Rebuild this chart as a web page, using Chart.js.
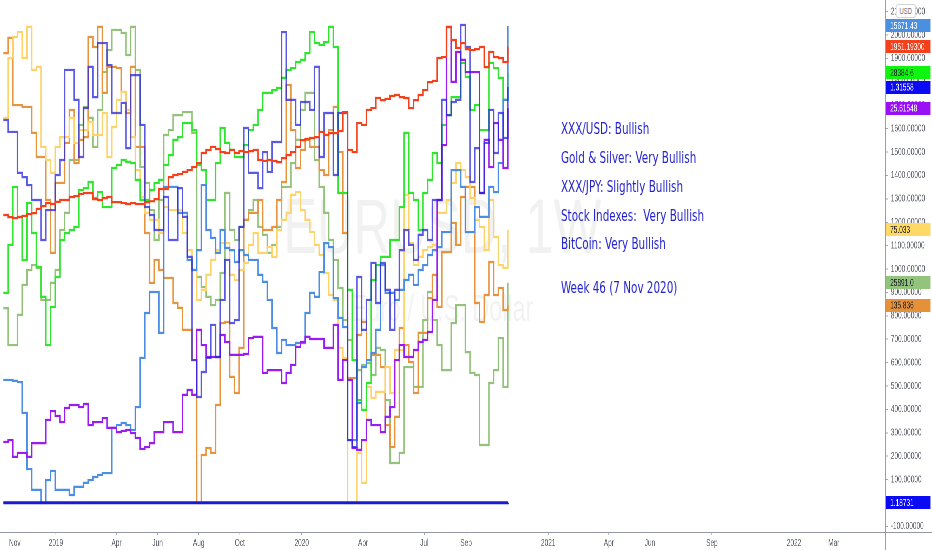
<!DOCTYPE html>
<html>
<head>
<meta charset="utf-8">
<script src="https://cdn.jsdelivr.net/npm/chart.js@4.4.1/dist/chart.umd.min.js"></script>
<style>
html, body { margin: 0; padding: 0; background: #fff; overflow: hidden; width: 932px; height: 550px; }
/* the reference is a wide screenshot squeezed horizontally, so draw wide and squeeze */
#wrap { position: absolute; left: 0; top: 0; width: 1434px; height: 550px; transform: scaleX(0.65); transform-origin: 0 0; }
#chart { position: absolute; left: 0; top: 0; }
.wm { position: absolute; left: 0; width: 1361px; text-align: center; font-family: "Liberation Sans", Arial, sans-serif; color: rgba(0, 0, 0, 0.055); white-space: nowrap; }
#wm1 { top: 187px; font-size: 78px; line-height: 78px; }
#wm2 { top: 291px; font-size: 36px; line-height: 36px; }
.note { position: absolute; left: 863px; font: 16px/16px "DejaVu Sans", sans-serif; color: #2424cf; white-space: pre; }
#usd { position: absolute; left: 1378px; top: 4px; width: 29px; height: 12px; border: 1px solid #c9cbd1; border-radius: 3px; background: #fff; font: 9px/12px "Liberation Sans", sans-serif; color: #6a6d78; text-align: center; }
</style>
</head>
<body>
<div id="wrap">
  <div class="wm" id="wm1">EURUSD, 1W</div>
  <div class="wm" id="wm2">Euro / U.S. Dollar</div>
  <canvas id="chart" width="1434" height="550"></canvas>
  <div class="note" style="top:121px">XXX/USD: Bullish</div>
  <div class="note" style="top:150px">Gold &amp; Silver: Very Bullish</div>
  <div class="note" style="top:179px">XXX/JPY: Slightly Bullish</div>
  <div class="note" style="top:208px">Stock Indexes:  Very Bullish</div>
  <div class="note" style="top:236px">BitCoin: Very Bullish</div>
  <div class="note" style="top:280px">Week 46 (7 Nov 2020)</div>
  <div id="usd">USD</div>
</div>
<script>
// weekly bars, first one is the week of 15 Oct 2018
const firstWeek = "2018-10-15";

const xTickDates = ["2018-11-01", "2019-01-01", "2019-04-01", "2019-06-01", "2019-08-01", "2019-10-01",
  "2020-01-01", "2020-04-01", "2020-07-01", "2020-09-01", "2021-01-01", "2021-04-01",
  "2021-06-01", "2021-09-01", "2022-01-01", "2022-03-01"];
const xTickLabels = ["Nov", "2019", "Apr", "Jun", "Aug", "Oct", "2020", "Apr", "Jul", "Sep",
  "2021", "Apr", "Jun", "Sep", "2022", "Mar"];

// gold, on the main scale
const gold = [1231, 1222, 1218, 1222, 1227, 1235, 1239, 1257, 1269, 1282,
  1278, 1287, 1295, 1295, 1308, 1312, 1321, 1325, 1325, 1299,
  1295, 1303, 1308, 1286, 1286, 1282, 1278, 1282, 1278, 1278,
  1286, 1290, 1299, 1342, 1342, 1393, 1402, 1406, 1415, 1423,
  1436, 1453, 1496, 1509, 1522, 1513, 1500, 1496, 1509, 1496,
  1504, 1500, 1504, 1509, 1466, 1462, 1466, 1462, 1457, 1474,
  1487, 1500, 1522, 1551, 1556, 1560, 1564, 1586, 1573, 1581,
  1581, 1590, 1671, 1509, 1500, 1624, 1616, 1680, 1688, 1731,
  1722, 1727, 1740, 1744, 1735, 1731, 1688, 1722, 1744, 1765,
  1799, 1804, 1902, 1906, 2034, 1979, 1945, 1966, 1940, 1936,
  1940, 1949, 1863, 1928, 1906, 1902, 1885, 1951];

// EURUSD, same scale, so it sits on the floor
const eurusd = [1.15, 1.16, 1.15, 1.14, 1.13, 1.14, 1.13, 1.14, 1.14, 1.13,
  1.14, 1.14, 1.15, 1.14, 1.15, 1.14, 1.14, 1.13, 1.13, 1.14,
  1.13, 1.12, 1.13, 1.13, 1.13, 1.12, 1.12, 1.12, 1.12, 1.11,
  1.12, 1.12, 1.12, 1.12, 1.12, 1.13, 1.13, 1.13, 1.14, 1.12,
  1.12, 1.12, 1.11, 1.11, 1.12, 1.11, 1.10, 1.11, 1.10, 1.11,
  1.10, 1.10, 1.10, 1.10, 1.11, 1.11, 1.11, 1.10, 1.10, 1.10,
  1.10, 1.11, 1.11, 1.11, 1.12, 1.12, 1.11, 1.11, 1.10, 1.10,
  1.09, 1.08, 1.09, 1.11, 1.11, 1.07, 1.08, 1.10, 1.08, 1.09,
  1.09, 1.08, 1.08, 1.09, 1.11, 1.13, 1.12, 1.13, 1.12, 1.12,
  1.12, 1.13, 1.13, 1.14, 1.16, 1.18, 1.18, 1.18, 1.18, 1.19,
  1.18, 1.19, 1.16, 1.17, 1.17, 1.18, 1.16, 1.19];

// overlay symbols, read as heights on the main scale
const gbpusd = [1637, 1586, 1586, 1411, 1393, 1359, 1295, 1295, 1124, 1252,
  1252, 1402, 1466, 1851, 1851, 1723, 1479, 1688, 1864, 1735,
  1966, 1966, 1872, 1667, 1667, 1710, 1517, 1829, 1829, 1616,
  1265, 1231, 1167, 1167, 1308, 1124, 1124, 1346, 1223, 1052,
  611, 453, 560, 620, 761, 624, 868, 1039, 769, 782,
  1180, 1603, 1411, 1411, 1346, 1500, 1415, 1543, 1543, 2013,
  1723, 1723, 1616, 1714, 1714, 1680, 1864, 1479, 1667, 1667,
  1402, 1667, 1667, 269, 239, 966, 740, 868, 1026, 855,
  1026, 911, 740, 911, 1081, 1167, 1103, 1039, 1146, 1167,
  1124, 1295, 1295, 1723, 1658, 1714, 1723, 2043, 1949, 1372,
  1517, 1325, 1539, 1680, 1496, 1667, 1560, 1778];

const btc = [526, 526, 522, 517, 385, 145, 56, 56, 0, 98,
  137, 56, 56, 56, 34, 69, 69, 86, 98, 111,
  120, 128, 128, 321, 333, 342, 333, 312, 410, 620,
  812, 902, 902, 727, 1351, 1351, 1351, 1240, 1240, 1039,
  996, 1081, 1359, 1167, 1133, 1069, 1167, 1090, 1081, 1030,
  1081, 1060, 1039, 1039, 975, 945, 868, 748, 641, 697,
  675, 675, 684, 684, 812, 898, 881, 987, 1111, 1094,
  876, 791, 752, 269, 269, 428, 581, 611, 641, 740,
  1017, 898, 898, 868, 911, 953, 975, 932, 996, 1017,
  1060, 1081, 1094, 1158, 1158, 1423, 1423, 1351, 1158, 1158,
  1265, 1223, 1223, 1351, 1329, 1453, 1723, 2039];

const dji = [898, 1103, 1351, 1223, 1039, 1282, 1154, 1009, 881, 675,
  838, 966, 1124, 1154, 1167, 1180, 1338, 1346, 1372, 1304,
  1329, 1265, 1265, 1432, 1445, 1466, 1458, 1453, 1381, 1295,
  1295, 1338, 1368, 1381, 1445, 1487, 1552, 1564, 1624, 1624,
  1594, 1445, 1423, 1295, 1295, 1453, 1603, 1539, 1509, 1479,
  1479, 1530, 1594, 1616, 1680, 1753, 1753, 1765, 1774, 1817,
  1851, 1859, 1885, 1894, 1923, 2013, 1966, 1958, 1970, 2035,
  1949, 1325, 1325, 911, 611, 440, 398, 513, 953, 1017,
  1052, 1052, 1124, 1124, 1265, 1582, 1325, 1295, 1167, 1325,
  1381, 1496, 1453, 1616, 1658, 1735, 1735, 1881, 1821, 1680,
  1701, 1594, 1594, 1881, 1859, 1817, 1723, 1838];

const hsi = [833, 675, 675, 804, 932, 996, 1017, 1004, 868, 868,
  941, 996, 1167, 1240, 1466, 1466, 1616, 1693, 1646, 1522,
  1680, 1842, 1936, 2022, 2022, 2009, 1915, 2035, 1851, 1436,
  1368, 1252, 1124, 1295, 1573, 1594, 1658, 1658, 1671, 1671,
  1582, 966, 923, 881, 846, 868, 983, 1325, 1167, 1124,
  1180, 1210, 1252, 1295, 1180, 1146, 1069, 1103, 1180, 1351,
  1351, 1453, 1552, 1680, 1753, 1753, 1466, 1351, 1240, 1124,
  1039, 919, 782, 697, 611, 568, 590, 598, 547, 663,
  654, 440, 171, 171, 214, 581, 581, 496, 496, 782,
  902, 782, 675, 568, 568, 769, 846, 846, 645, 556,
  547, 248, 248, 513, 568, 705, 496, 941];

const silver = [261, 269, 197, 214, 214, 197, 256, 256, 256, 355,
  393, 372, 346, 406, 419, 419, 410, 423, 333, 346,
  346, 363, 321, 321, 303, 308, 312, 299, 278, 231,
  239, 256, 303, 303, 346, 346, 303, 303, 462, 483,
  462, 740, 675, 624, 624, 624, 718, 688, 633, 633,
  633, 637, 705, 710, 710, 556, 568, 568, 568, 513,
  556, 590, 667, 688, 710, 701, 701, 701, 663, 663,
  761, 526, 611, 526, 235, 227, 269, 355, 333, 333,
  303, 368, 410, 611, 675, 624, 624, 654, 688, 697,
  731, 868, 1295, 1530, 2035, 1800, 1928, 1894, 1842, 1842,
  1842, 1325, 1552, 1436, 1624, 1552, 1432, 1688];

const audjpy = [1646, 1902, 1992, 2013, 1902, 2035, 1851, 1864, 1522, 1466,
  1411, 1522, 1564, 1564, 1646, 1539, 1594, 1594, 1629, 1573,
  1573, 1667, 1479, 1607, 1723, 1757, 1680, 1564, 1423, 1308,
  1240, 1210, 1210, 1154, 1265, 1252, 1252, 1252, 1154, 1081,
  996, 868, 911, 975, 1039, 1081, 1111, 1111, 975, 953,
  996, 1026, 1103, 1154, 1069, 1069, 1094, 1052, 1167, 1210,
  1240, 1317, 1329, 1252, 1210, 1158, 1103, 1060, 983, 889,
  868, 663, 620, 0, 0, 214, 86, 496, 449, 475,
  475, 581, 470, 654, 654, 1317, 1111, 1017, 1052, 1081,
  1094, 1103, 1240, 1240, 1295, 1368, 1453, 1423, 1393, 1304,
  1210, 1180, 1081, 1295, 1137, 1017, 1005, 1167];

const gbpjpy = [1923, 1988, 1701, 1701, 1693, 1693, 1582, 1479, 1479, 1295,
  1069, 1368, 1368, 1539, 1680, 1453, 1552, 1564, 1992, 1949,
  2035, 1753, 1864, 1864, 1859, 1757, 1667, 1864, 1522, 1522,
  1154, 941, 1039, 996, 962, 962, 855, 834, 740, 740,
  611, 0, 205, 235, 214, 419, 769, 774, 539, 470,
  663, 1210, 1240, 1240, 1295, 1167, 1167, 1180, 1295, 1372,
  1787, 1594, 1432, 1509, 1552, 1522, 1522, 1423, 1402, 1594,
  1693, 1500, 1154, 534, 534, 718, 774, 611, 633, 633,
  581, 333, 239, 368, 748, 675, 603, 470, 727, 727,
  876, 975, 838, 1073, 1073, 1197, 1103, 1308, 1351, 1351,
  855, 774, 889, 1030, 889, 919, 825, 846];

// last prices shown in the tags on the price axis
const lastPrice = {
  gold: "1951.19300", eurusd: "1.18731", gbpusd: "1.31558", silver: "25.61548", btc: "15671.43",
  dji: "28384.6", audjpy: "75.033", gbpjpy: "135.836", hsi: "25891.0"
};

const yTickValues = [];
for (let v = -100; v <= 2100; v += 100) yTickValues.push(v);

const DAY = 86400000;
const epoch = Date.parse("2019-01-01");
const dayOf = s => (Date.parse(s) - epoch) / DAY;
const weekDays = gold.map((_, i) => dayOf(firstWeek) + 7 * i);
const xTickDays = xTickDates.map(dayOf);

function series(values, color, tag, tagText, price, width) {
  return {
    data: values.map((v, i) => ({ x: weekDays[i], y: v })),
    borderColor: color,
    borderWidth: width || 2.2,
    stepped: true,
    pointRadius: 0,
    fill: false,
    tagColor: tag,
    tagText: tagText,
    price: price
  };
}

const axisFont = { family: "Liberation Sans, Arial, sans-serif", size: 10 };
const axisColor = "#5d606b";
const lineColor = "#a3a6af";

const overlay = {
  id: "overlay",
  afterDraw(chart) {
    const { ctx, chartArea: a } = chart;
    const y = chart.scales.y;
    ctx.save();
    ctx.strokeStyle = "#9598a1";
    ctx.lineWidth = 1;
    ctx.beginPath();
    ctx.moveTo(0, a.bottom + 0.5);
    ctx.lineTo(chart.width, a.bottom + 0.5);
    ctx.moveTo(a.right + 0.5, 0);
    ctx.lineTo(a.right + 0.5, chart.height);
    ctx.stroke();

    ctx.font = "10px 'Liberation Sans', Arial, sans-serif";
    ctx.textBaseline = "middle";
    chart.data.datasets.forEach(ds => {
      const last = ds.data[ds.data.length - 1].y;
      const py = y.getPixelForValue(last);
      ctx.fillStyle = ds.tagColor;
      ctx.fillRect(a.right + 1.5, Math.round(py - 6.5), chart.width - a.right - 4, 13);
      ctx.fillStyle = ds.tagText;
      ctx.fillText(ds.price, a.right + 8, py + 0.5);
    });
    ctx.restore();
  }
};

new Chart(document.getElementById("chart"), {
  type: "line",
  data: {
    datasets: [
      series(gold, "#f4411c", "#f4411c", "#fff", lastPrice.gold),
      series(eurusd, "#1a1ad2", "#0a0af5", "#fff", lastPrice.eurusd, 3),
      series(gbpusd, "rgba(35,35,222,0.75)", "#0a0af5", "#fff", lastPrice.gbpusd),
      series(silver, "#9a1cf0", "#9a10f5", "#fff", lastPrice.silver),
      series(btc, "#4c8ee2", "#4a8fe0", "#fff", lastPrice.btc),
      series(dji, "#2ee62e", "#10f510", "#1a1d26", lastPrice.dji),
      series(audjpy, "#fdd36a", "#ffd966", "#1a1d26", lastPrice.audjpy),
      series(gbpjpy, "#e69440", "#e69138", "#1a1d26", lastPrice.gbpjpy),
      series(hsi, "#93c37a", "#93c47d", "#1a1d26", lastPrice.hsi)
    ]
  },
  options: {
    responsive: false,
    devicePixelRatio: 2,
    animation: false,
    layout: { padding: 0 },
    plugins: { legend: { display: false }, tooltip: { enabled: false } },
    scales: {
      x: {
        type: "linear",
        min: -83,
        max: 1231,
        afterBuildTicks: s => { s.ticks = xTickDays.map(v => ({ value: v })); },
        afterFit: s => { s.height = 18; s.paddingLeft = 0; s.paddingRight = 0; },
        ticks: {
          autoSkip: false,
          maxRotation: 0,
          padding: 2,
          font: axisFont,
          color: axisColor,
          callback: v => xTickLabels[xTickDays.indexOf(v)]
        },
        grid: { drawOnChartArea: false, tickLength: 3, color: lineColor },
        border: { display: false }
      },
      y: {
        position: "right",
        min: -124,
        max: 2150,
        afterBuildTicks: s => { s.ticks = yTickValues.map(v => ({ value: v })); },
        afterFit: s => { s.width = 72.5; s.paddingTop = 0; s.paddingBottom = 0; },
        ticks: {
          autoSkip: false,
          padding: 4,
          font: axisFont,
          color: axisColor,
          callback: v => v.toFixed(5)
        },
        grid: { drawOnChartArea: false, tickLength: 5, color: lineColor },
        border: { display: false }
      }
    }
  },
  plugins: [overlay]
});
</script>
</body>
</html>
